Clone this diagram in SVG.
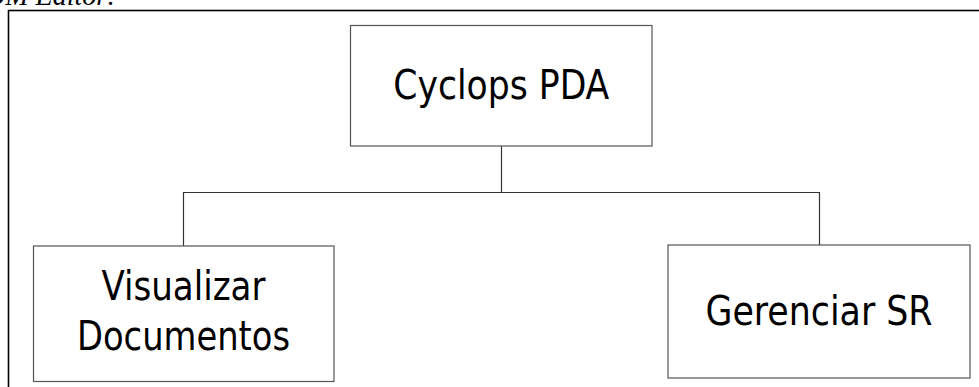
<svg xmlns="http://www.w3.org/2000/svg" width="979" height="387" viewBox="0 0 979 387">
  <style>
    .box { fill: #ffffff; stroke: #555555; stroke-width: 1.2; }
    .lbl { font-family: "DejaVu Sans Condensed", "DejaVu Sans", Tahoma, sans-serif; font-stretch: condensed; font-size: 40px; fill: #000000; text-anchor: middle; }
    .conn { fill: none; stroke: #333333; stroke-width: 1.2; }
    .cap { font-family: "Liberation Serif", "Times New Roman", serif; font-style: italic; font-size: 28px; fill: #000000; }
  </style>
  <rect x="0" y="0" width="979" height="387" fill="#ffffff"/>
  <text class="cap" x="-15" y="5">OM Editor:</text>
  <rect x="8.5" y="10.5" width="1000" height="400" fill="none" stroke="#000000" stroke-width="1.6"/>
  <g id="connectors">
    <path class="conn" d="M501.5,146 V192.5"/>
    <path class="conn" d="M183.5,246 V192.5 H819.5 V245"/>
  </g>
  <g id="node-cyclops">
    <rect class="box" x="350.5" y="25.5" width="301.5" height="120.5"/>
    <text class="lbl" x="501.3" y="98.5" textLength="216" lengthAdjust="spacingAndGlyphs">Cyclops PDA</text>
  </g>
  <g id="node-visualizar">
    <rect class="box" x="33.5" y="246" width="300.5" height="135.5"/>
    <text class="lbl" x="183.5" y="300" textLength="164" lengthAdjust="spacingAndGlyphs">Visualizar</text>
    <text class="lbl" x="183.5" y="349.5" textLength="213" lengthAdjust="spacingAndGlyphs">Documentos</text>
  </g>
  <g id="node-gerenciar">
    <rect class="box" x="668" y="245" width="302" height="133"/>
    <text class="lbl" x="819" y="325" textLength="227" lengthAdjust="spacingAndGlyphs">Gerenciar SR</text>
  </g>
</svg>
